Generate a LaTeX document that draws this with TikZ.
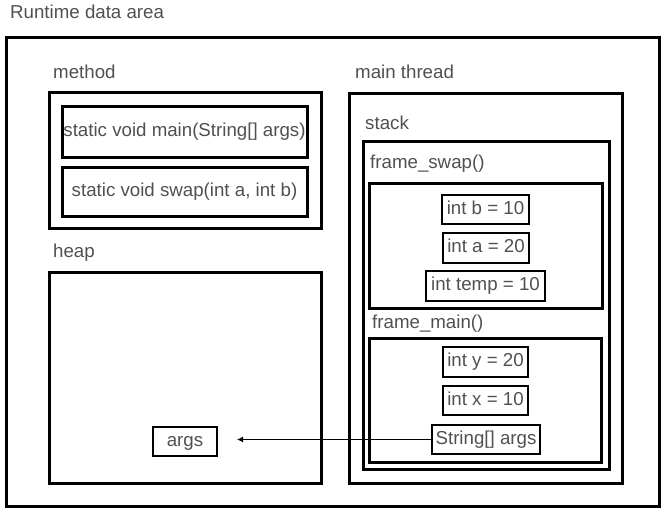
\documentclass[tikz,border=0pt]{standalone}
\usepackage{fontspec}
\setmainfont{Liberation Sans}
\usetikzlibrary{arrows.meta}
\definecolor{txtgray}{RGB}{80,80,80}
\tikzset{
  bigbox/.style={draw=black, line width=3pt, rectangle, inner sep=0pt},
  boxtext/.style={text=txtgray, font=\fontsize{18.7}{22}\selectfont, text height=13.5pt, text depth=4pt},
  smallbox/.style={draw=black, line width=2pt, rectangle, inner sep=0pt, boxtext},
  lbl/.style={anchor=base west, inner sep=0pt, text=txtgray, font=\fontsize{18.7}{22}\selectfont},
  conn/.style={draw=black, line width=1.8pt, -{Latex[length=6pt,width=6pt]}}
}
\begin{document}
\begin{tikzpicture}[x=1pt,y=-1pt]
\useasboundingbox (0,0) rectangle (669,516);
% labels
\node[lbl] (lrt) at (10,18.5) {Runtime data area};
\node[lbl] (lmethod) at (53,79) {method};
\node[lbl] (lheap) at (53,257) {heap};
\node[lbl] (lthread) at (355,79) {main thread};
\node[lbl] (lstack) at (365,129) {stack};
\node[lbl] (lfswap) at (370,168) {frame\_swap()};
\node[lbl] (lfmain) at (372,328.5) {frame\_main()};
% outer
\node[bigbox, minimum width=653pt, minimum height=468pt] (outer) at (332.5,272) {};
% method area
\node[bigbox, minimum width=272pt, minimum height=135pt] (method) at (185,160.5) {};
\node[bigbox, boxtext, minimum width=245pt, minimum height=50pt] (mmain) at (184.5,132) {static void main(String[] args)};
\node[bigbox, boxtext, minimum width=245pt, minimum height=49pt] (mswap) at (184.5,191.5) {static void swap(int a, int b)};
% heap
\node[bigbox, minimum width=272pt, minimum height=211pt] (heap) at (185,377.5) {};
\node[smallbox, minimum width=64pt, minimum height=29pt] (hargs) at (185,441.5) {args};
% main thread
\node[bigbox, minimum width=273pt, minimum height=389pt] (thread) at (485.5,288.5) {};
\node[bigbox, minimum width=246pt, minimum height=327pt] (stack) at (486,305.5) {};
\node[bigbox, minimum width=233pt, minimum height=125pt] (fswap) at (485.5,245.5) {};
\node[smallbox, minimum width=87pt, minimum height=29pt] (intb) at (485.5,209.5) {int b = 10};
\node[smallbox, minimum width=86pt, minimum height=30pt] (inta) at (486,248) {int a = 20};
\node[smallbox, minimum width=119pt, minimum height=30pt] (inttemp) at (485.5,286) {int temp = 10};
\node[bigbox, minimum width=232pt, minimum height=124pt] (fmain) at (485,400) {};
\node[smallbox, minimum width=85pt, minimum height=30pt] (inty) at (485.5,362) {int y = 20};
\node[smallbox, minimum width=85pt, minimum height=29pt] (intx) at (485.5,400.5) {int x = 10};
\node[smallbox, minimum width=108pt, minimum height=29pt] (sargs) at (486,439.5) {String[] args};
% connector
\draw[conn, shorten >=19pt] (sargs.west) -- (sargs.west -| hargs.east);
\end{tikzpicture}
\end{document}
